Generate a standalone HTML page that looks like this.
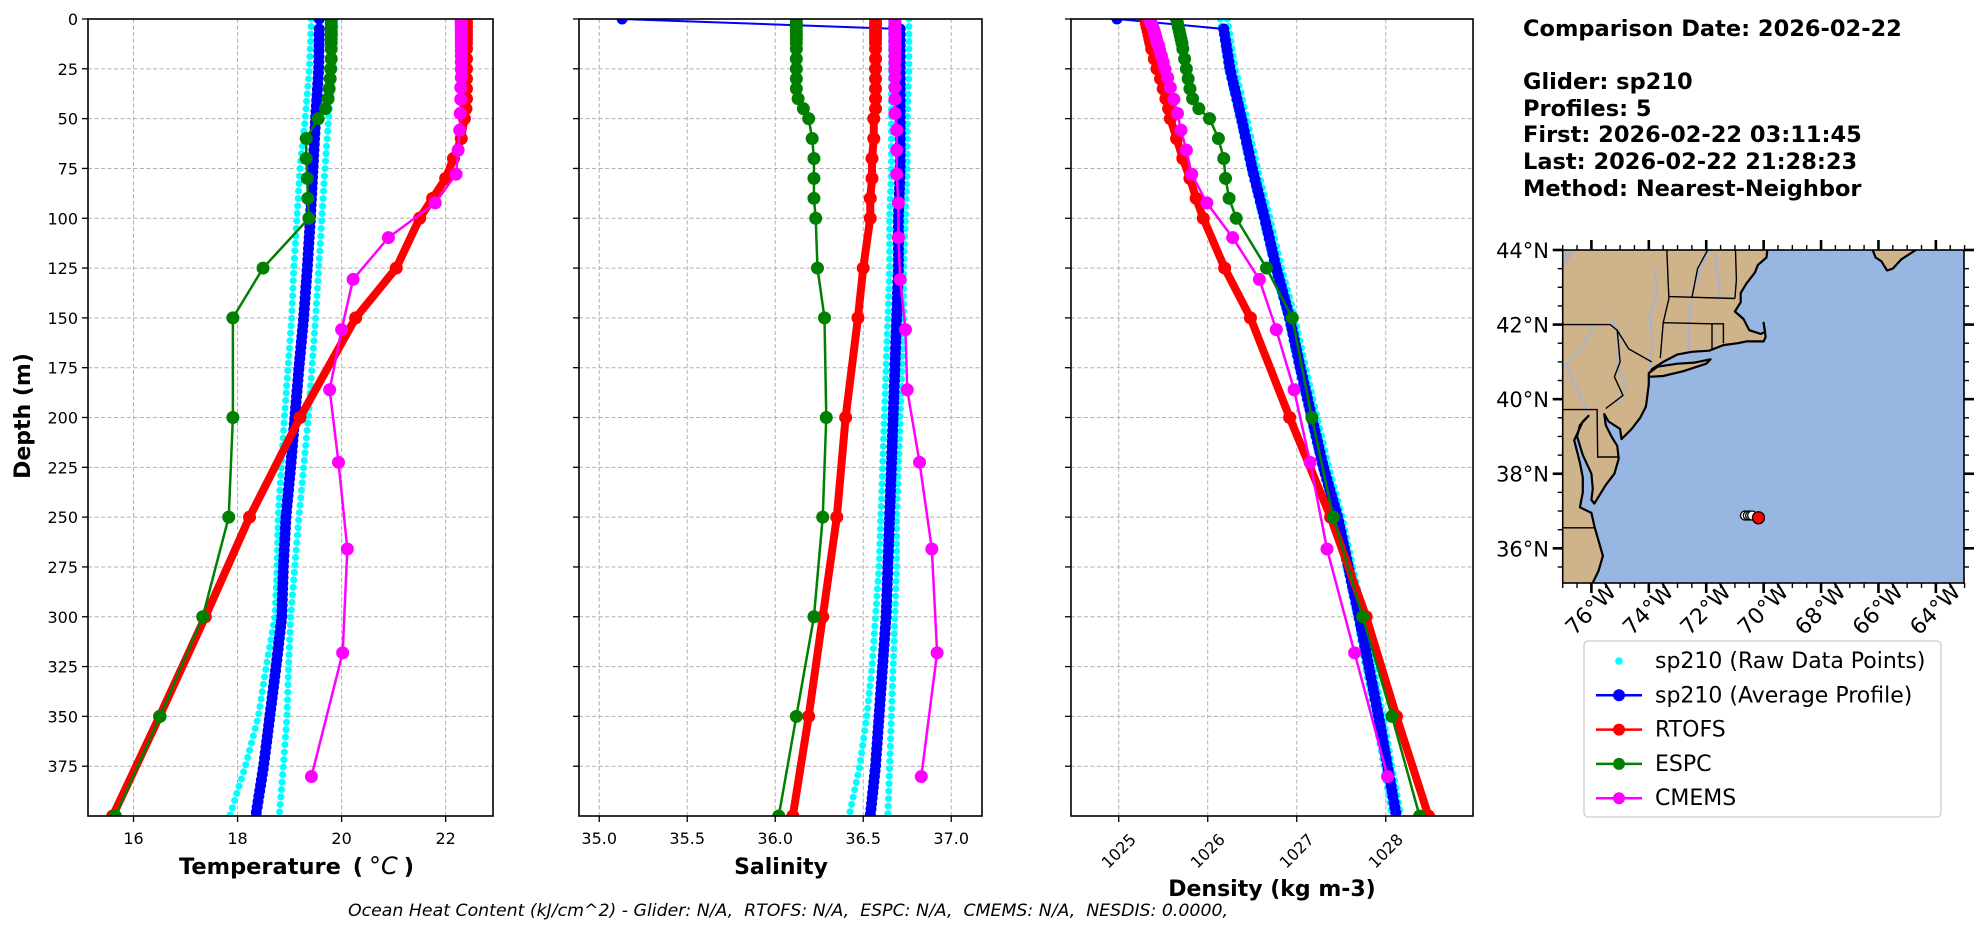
<!DOCTYPE html>
<html><head><meta charset="utf-8"><title>Glider vs Models Profile Comparison</title>
<style>
html,body{margin:0;padding:0;background:#fff;}
svg{display:block;font-family:"DejaVu Sans","Liberation Sans",sans-serif;}
</style></head>
<body>
<svg id="chart" xmlns="http://www.w3.org/2000/svg" width="1978" height="934" viewBox="0 0 1978 934">
<rect x="0" y="0" width="1978" height="934" fill="#fff"/>
<g font-weight="bold" font-size="22.5" fill="#000">
<text x="1523" y="36">Comparison Date: 2026-02-22</text>
<text x="1523" y="89">Glider: sp210</text>
<text x="1523" y="116">Profiles: 5</text>
<text x="1523" y="142">First: 2026-02-22 03:11:45</text>
<text x="1523" y="169">Last: 2026-02-22 21:28:23</text>
<text x="1523" y="196">Method: Nearest-Neighbor</text>
</g>
<text x="348" y="916" xml:space="preserve" textLength="880" lengthAdjust="spacingAndGlyphs" font-size="16.5" font-style="italic">Ocean Heat Content (kJ/cm^2) - Glider: N/A,  RTOFS: N/A,  ESPC: N/A,  CMEMS: N/A,  NESDIS: 0.0000,</text>
</svg>
<script>
// ---------- data ----------
const depthTicks = [0,25,50,75,100,125,150,175,200,225,250,275,300,325,350,375];
const tempTicks = [16,18,20,22];
const salTicks = [35.0,35.5,36.0,36.5,37.0];
const salTickLabels = ["35.0","35.5","36.0","36.5","37.0"];
const densTicks = [1025,1026,1027,1028];

const avgDepths = [0,5,25,50,75,100,125,150,175,200,225,250,275,300,325,350,375,400];
const rawDepths = [0,25,50,75,100,125,150,175,200,225,250,275,300,325,350,375,400];
const modelDepths = [0,2,4,6,8,10,12,15,20,25,30,35,40,45,50,60,70,80,90,100,125,150,200,250,300,350,400];
const cmemsDepths = [0.5,1.5,2.6,3.8,5.1,6.4,7.9,9.6,11.4,13.5,15.8,18.5,21.6,25.2,29.4,34.4,40.3,47.4,55.8,65.8,77.9,92.3,109.7,130.7,155.9,186.1,222.5,266.0,318.1,380.2];

const gliderTempAvg = [19.57,19.57,19.56,19.5,19.45,19.4,19.34,19.27,19.18,19.1,19.02,18.93,18.88,18.85,18.74,18.62,18.5,18.35];
const gliderTempRawLo = [19.42,19.38,19.3,19.2,19.14,19.08,19.04,18.97,18.9,18.84,18.78,18.76,18.72,18.55,18.4,18.15,17.85];
const gliderTempRawHi = [19.88,19.83,19.75,19.68,19.62,19.56,19.5,19.43,19.36,19.27,19.18,19.1,19.02,18.98,18.95,18.88,18.8];
const rtofsTemp = [22.4,22.4,22.4,22.4,22.4,22.4,22.4,22.4,22.4,22.4,22.4,22.4,22.4,22.39,22.36,22.3,22.15,22.0,21.75,21.5,21.05,20.27,19.2,18.23,17.38,16.5,15.6];
const espcTemp = [19.8,19.8,19.8,19.8,19.8,19.8,19.8,19.8,19.8,19.79,19.78,19.76,19.74,19.69,19.55,19.32,19.32,19.34,19.35,19.37,18.49,17.91,17.91,17.83,17.33,16.51,15.65];
const cmemsTemp = [22.3,22.3,22.3,22.3,22.3,22.3,22.3,22.3,22.3,22.3,22.3,22.3,22.3,22.3,22.3,22.29,22.29,22.28,22.27,22.24,22.2,21.8,20.9,20.22,20.0,19.77,19.94,20.11,20.02,19.42];

const gliderSalAvg = [35.13,36.71,36.71,36.71,36.71,36.7,36.7,36.69,36.68,36.67,36.66,36.65,36.64,36.63,36.61,36.59,36.57,36.54];
const gliderSalRawLo = [36.66,36.66,36.66,36.66,36.65,36.65,36.64,36.63,36.62,36.61,36.6,36.59,36.57,36.55,36.52,36.48,36.42];
const gliderSalRawHi = [36.76,36.76,36.75,36.75,36.74,36.73,36.73,36.72,36.71,36.7,36.69,36.69,36.68,36.67,36.66,36.65,36.64];
const rtofsSal = [36.57,36.57,36.57,36.57,36.57,36.57,36.57,36.57,36.57,36.57,36.57,36.57,36.57,36.57,36.56,36.56,36.55,36.55,36.54,36.54,36.5,36.47,36.4,36.35,36.27,36.19,36.1];
const espcSal = [36.12,36.12,36.12,36.12,36.12,36.12,36.12,36.12,36.12,36.12,36.12,36.12,36.13,36.16,36.19,36.21,36.22,36.22,36.22,36.23,36.24,36.28,36.29,36.27,36.22,36.12,36.02];
const cmemsSal = [36.68,36.68,36.68,36.68,36.68,36.68,36.68,36.68,36.68,36.68,36.68,36.68,36.68,36.68,36.68,36.68,36.68,36.68,36.69,36.69,36.69,36.7,36.7,36.71,36.74,36.75,36.82,36.89,36.92,36.83];

const gliderDensAvg = [1024.98,1026.18,1026.25,1026.38,1026.5,1026.64,1026.77,1026.92,1027.04,1027.17,1027.3,1027.46,1027.58,1027.7,1027.81,1027.92,1028.02,1028.12];
const gliderDensRawLo = [1026.14,1026.22,1026.35,1026.47,1026.61,1026.74,1026.89,1027.01,1027.14,1027.27,1027.43,1027.55,1027.67,1027.77,1027.88,1027.98,1028.07];
const gliderDensRawHi = [1026.22,1026.31,1026.44,1026.56,1026.7,1026.83,1026.98,1027.1,1027.23,1027.36,1027.51,1027.63,1027.75,1027.86,1027.97,1028.07,1028.17];
const rtofsDens = [1025.3,1025.31,1025.32,1025.33,1025.34,1025.35,1025.36,1025.37,1025.4,1025.43,1025.47,1025.5,1025.53,1025.56,1025.58,1025.65,1025.72,1025.8,1025.87,1025.95,1026.19,1026.48,1026.92,1027.38,1027.78,1028.12,1028.48];
const espcDens = [1025.65,1025.66,1025.67,1025.68,1025.69,1025.7,1025.71,1025.72,1025.74,1025.76,1025.78,1025.8,1025.83,1025.9,1026.02,1026.12,1026.18,1026.2,1026.24,1026.32,1026.66,1026.95,1027.17,1027.41,1027.74,1028.07,1028.38];
const cmemsDens = [1025.35,1025.36,1025.37,1025.38,1025.39,1025.4,1025.41,1025.42,1025.43,1025.45,1025.46,1025.48,1025.5,1025.52,1025.55,1025.58,1025.62,1025.66,1025.7,1025.76,1025.82,1025.99,1026.28,1026.58,1026.77,1026.97,1027.15,1027.34,1027.65,1028.02];

const latTicks = [36,38,40,42,44];
const lonTicks = [-76,-74,-72,-70,-68,-66,-64];
const gliderLons = [-70.65,-70.55,-70.47,-70.4];
const gliderLats = [36.88,36.88,36.88,36.88];
const latestLon = [-70.18];
const latestLat = [36.82];

// ---------- helpers ----------
const NS = "http://www.w3.org/2000/svg";
const svg = document.getElementById('chart');
function mk(tag, attrs, parent){
  const e = document.createElementNS(NS, tag);
  for (const k in attrs) e.setAttribute(k, attrs[k]);
  (parent || svg).appendChild(e);
  return e;
}
const Y0 = 19, Y1 = 816;
function yScale(d){ return Y0 + d * (Y1 - Y0) / 400; }
function linScale(vmin, vmax, x0, x1){ return v => x0 + (v - vmin) * (x1 - x0) / (vmax - vmin); }

const panels = [
  {key:'temperature', x0:88, x1:493, min:15.125, max:22.91, ticks:tempTicks, tlabels:tempTicks.map(String), rot:false,
   glider:[gliderTempAvg,gliderTempRawLo,gliderTempRawHi], rtofs:rtofsTemp, espc:espcTemp, cmems:cmemsTemp},
  {key:'salinity', x0:579, x1:982, min:34.885, max:37.175, ticks:salTicks, tlabels:salTickLabels, rot:false,
   glider:[gliderSalAvg,gliderSalRawLo,gliderSalRawHi], rtofs:rtofsSal, espc:espcSal, cmems:cmemsSal},
  {key:'density', x0:1071, x1:1473, min:1024.464, max:1028.98, ticks:densTicks, tlabels:densTicks.map(String), rot:true,
   glider:[gliderDensAvg,gliderDensRawLo,gliderDensRawHi], rtofs:rtofsDens, espc:espcDens, cmems:cmemsDens}
];

function pts(sx, depths, vals){ return vals.map((v,i)=> sx(v).toFixed(2)+','+yScale(depths[i]).toFixed(2)).join(' '); }

panels.forEach((p, pi) => {
  const sx = linScale(p.min, p.max, p.x0, p.x1);
  const g = mk('g', {});
  
  
  const cp = mk('clipPath', {id:'clip'+pi}, g);
  mk('rect', {x:p.x0, y:Y0, width:p.x1-p.x0, height:Y1-Y0}, cp);
  const grid = mk('g', {stroke:'#b0b0b0', 'stroke-width':1, 'stroke-dasharray':'4 2.5'}, g);
  
  
  p.ticks.forEach(t => {
    const gl = mk('line', {x1:sx(t), x2:sx(t), y1:Y0, y2:Y1}, grid);
    
    
  });
  depthTicks.forEach(d => {
    const gl = mk('line', {x1:p.x0, x2:p.x1, y1:yScale(d), y2:yScale(d)}, grid);
    
    
  });
  const series = mk('g', {'clip-path':'url(#clip'+pi+')'}, g);
  
  
  [p.glider[1], p.glider[2]].forEach((arr, k) => {
    const pl = mk('polyline', {points:pts(sx, rawDepths, arr), fill:'none', stroke:'#00ffff', 'stroke-width':7, 'stroke-linecap':'round', 'stroke-dasharray':'0 7.5'}, series);
    
    
  });
  const thin = mk('polyline', {points:pts(sx, avgDepths, p.glider[0]), fill:'none', stroke:'#0000ff', 'stroke-width':2}, series);
  
  
  const dotted = mk('polyline', {points:pts(sx, avgDepths.slice(1), p.glider[0].slice(1)), fill:'none', stroke:'#0000ff', 'stroke-width':11, 'stroke-linecap':'round', 'stroke-dasharray':'0 5.5'}, series);
  
  
  const first = mk('circle', {cx:sx(p.glider[0][0]), cy:yScale(avgDepths[0]), r:5.5, fill:'#0000ff'}, series);
  
  
  const models = [
    {name:'rtofs', vals:p.rtofs, depths:modelDepths, color:'#ff0000', w:8, r:6.5},
    {name:'espc', vals:p.espc, depths:modelDepths, color:'#008000', w:2.5, r:6.5},
    {name:'cmems', vals:p.cmems, depths:cmemsDepths, color:'#ff00ff', w:2.5, r:6.5}
  ];
  models.forEach(m => {
    const mg = mk('g', {}, series);
    
    
    const ln = mk('polyline', {points:pts(sx, m.depths, m.vals), fill:'none', stroke:m.color, 'stroke-width':m.w, 'stroke-linejoin':'round'}, mg);
    
    
    m.vals.forEach((v,i) => {
      const c = mk('circle', {cx:sx(v), cy:yScale(m.depths[i]), r:m.r, fill:m.color}, mg);
      
      
    });
  });
  const fr = mk('rect', {x:p.x0, y:Y0, width:p.x1-p.x0, height:Y1-Y0, fill:'none', stroke:'#000', 'stroke-width':1.6}, g);
  
  
  p.ticks.forEach((t, i) => {
    const tk = mk('line', {x1:sx(t), x2:sx(t), y1:Y1, y2:Y1+6, stroke:'#000', 'stroke-width':1.3}, g);
    
    
    let tl;
    if (p.rot) {
      tl = mk('text', {x:sx(t), y:851, 'text-anchor':'middle', 'dominant-baseline':'central', 'font-size':16, transform:'rotate(-45 '+sx(t)+' 851)'}, g);
    } else {
      tl = mk('text', {x:sx(t), y:844, 'text-anchor':'middle', 'font-size':16}, g);
    }
    tl.textContent = p.tlabels[i];
    
    
  });
  depthTicks.forEach(d => {
    const tk = mk('line', {x1:p.x0-6, x2:p.x0, y1:yScale(d), y2:yScale(d), stroke:'#000', 'stroke-width':1.3}, g);
    
    
    if (pi === 0) {
      const tl = mk('text', {x:p.x0-10, y:yScale(d)+6, 'text-anchor':'end', 'font-size':16}, g);
      tl.textContent = String(d);
      
      
    }
  });
});

const t1 = mk('text', {x:179, y:874, 'font-size':22.5, 'font-weight':'bold'});
t1.innerHTML = 'Temperature <tspan dx="4">(</tspan><tspan dx="6" font-style="italic" font-weight="normal" font-size="24">°C</tspan><tspan dx="6">)</tspan>';


const t2 = mk('text', {x:781, y:874, 'text-anchor':'middle', 'font-size':22, 'font-weight':'bold'});
t2.textContent = 'Salinity';


const t3 = mk('text', {x:1272, y:896, 'text-anchor':'middle', 'font-size':22, 'font-weight':'bold'});
t3.textContent = 'Density (kg m-3)';


const t4 = mk('text', {x:30, y:416, 'text-anchor':'middle', 'font-size':22, 'font-weight':'bold', transform:'rotate(-90 30 416)'});
t4.textContent = 'Depth (m)';



// ---------- map ----------
const MX0 = 1562.7, MX1 = 1964, MY0 = 250, MY1 = 583;
const LON0 = -77, LON1 = -63.02, LAT1 = 44, LAT0 = 35.07;
function mx(lon){ return MX0 + (lon - LON0) * (MX1 - MX0) / (LON1 - LON0); }
function my(lat){ return MY0 + (LAT1 - lat) * (MY1 - MY0) / (LAT1 - LAT0); }
function geo(arr){ return arr.map(p => mx(p[0]).toFixed(1)+','+my(p[1]).toFixed(1)).join(' '); }

const mapG = mk('g', {});


const mcp = mk('clipPath', {id:'mapclip'}, mapG);
mk('rect', {x:MX0, y:MY0, width:MX1-MX0, height:MY1-MY0}, mcp);
const inner = mk('g', {'clip-path':'url(#mapclip)'}, mapG);
const ocean = mk('rect', {x:MX0, y:MY0, width:MX1-MX0, height:MY1-MY0, fill:'#97b6e1'}, inner);


const mainland = [[-77.5,44.5],[-69.8,44.5],[-69.9,43.8],[-70.2,43.6],[-70.3,43.4],[-70.6,43.1],[-70.8,42.85],[-70.8,42.6],[-71.0,42.35],[-70.7,42.15],[-70.5,41.85],[-70.1,41.75],[-69.95,41.8],[-70.0,42.05],[-69.93,41.67],[-70.0,41.55],[-70.6,41.55],[-70.9,41.5],[-71.4,41.45],[-71.9,41.3],[-72.5,41.27],[-73.0,41.2],[-73.5,41.0],[-73.9,40.8],[-74.0,40.6],[-74.0,40.4],[-74.05,40.1],[-74.1,39.8],[-74.3,39.5],[-74.6,39.2],[-74.95,38.93],[-75.0,39.2],[-75.4,39.4],[-75.55,39.6],[-75.5,39.3],[-75.3,39.0],[-75.1,38.75],[-75.05,38.4],[-75.2,38.0],[-75.5,37.7],[-75.9,37.2],[-76.0,37.3],[-75.95,37.6],[-76.0,38.0],[-76.3,38.5],[-76.5,39.0],[-76.4,39.3],[-76.1,39.55],[-76.3,39.4],[-76.6,38.9],[-76.4,38.3],[-76.3,37.9],[-76.3,37.5],[-76.4,37.1],[-76.0,36.95],[-75.9,36.6],[-75.75,36.2],[-75.6,35.8],[-75.75,35.4],[-76.0,35.0],[-77.5,35.0]];
const longIsland = [[-74.0,40.6],[-73.5,40.62],[-72.8,40.75],[-72.0,40.95],[-71.85,41.07],[-72.4,40.98],[-73.0,40.95],[-73.7,40.87],[-74.0,40.7]];
const novaScotia = [[-66.2,44.5],[-66.2,44],[-66.1,43.8],[-65.9,43.7],[-65.7,43.45],[-65.5,43.5],[-65.2,43.75],[-64.7,44],[-64.5,44.5]];
const canada = [[-77.5,44.5],[-76.5,44.5],[-76.6,44],[-76.9,43.6],[-77.5,43.6]];
[['mainland-land',mainland],['long-island',longIsland],['nova-scotia',novaScotia]].forEach(l => {
  const pg = mk('polygon', {points:geo(l[1]), fill:'#cfb38a', stroke:'#000', 'stroke-width':2.2, 'stroke-linejoin':'round'}, inner);
  
  
});
const cg = mk('polygon', {points:geo(canada), fill:'#b0b0b0'}, inner);


const rivers = [
  [[-73.95,40.8],[-73.9,41.5],[-73.95,42.3],[-73.7,42.8],[-73.8,43.5]],
  [[-76.1,39.6],[-76.5,40.3],[-76.9,40.9],[-76.3,41.4],[-75.9,42.0]],
  [[-72.6,41.3],[-72.6,42.0],[-72.5,42.8],[-72.2,43.5],[-71.9,44.0]],
  [[-75.1,39.9],[-74.8,40.4],[-75.1,40.9],[-75.0,41.6],[-75.3,42.2]],
  [[-71.5,42.7],[-71.6,43.3],[-71.7,43.9]]
];
rivers.forEach(r => {
  const rl = mk('polyline', {points:geo(r), fill:'none', stroke:'#97b6e1', 'stroke-width':1.5}, inner);
  
  
});
const borders = [
  [[-77.5,42.0],[-75.35,42.0],[-75.1,41.85],[-74.7,41.35],[-73.9,41.0]],
  [[-75.1,41.85],[-75.0,41.0],[-75.2,40.6],[-74.9,40.1],[-75.5,39.75]],
  [[-77.5,39.72],[-75.8,39.72],[-75.78,38.45],[-75.05,38.45]],
  [[-77.5,36.55],[-75.9,36.55]],
  [[-73.6,41.1],[-73.5,42.05],[-73.3,42.7],[-73.4,44.5]],
  [[-73.5,42.05],[-71.8,42.02],[-71.4,42.02],[-71.4,41.5]],
  [[-71.8,42.02],[-71.8,41.35]],
  [[-73.3,42.75],[-71.0,42.7]],
  [[-72.5,42.72],[-72.3,43.5],[-71.6,44.5]],
  [[-71.0,42.7],[-70.95,43.2],[-71.0,44.5]]
];
borders.forEach(b => {
  const bl = mk('polyline', {points:geo(b), fill:'none', stroke:'#000', 'stroke-width':1.4}, inner);
  
  
});
gliderLons.forEach((lon,i) => {
  const c = mk('circle', {cx:mx(lon), cy:my(gliderLats[i]), r:4.5, fill:'#fff', stroke:'#000', 'stroke-width':1.3}, inner);
  
  
});
latestLon.forEach((lon,i) => {
  const c = mk('circle', {cx:mx(lon), cy:my(latestLat[i]), r:6, fill:'#ff0000', stroke:'#000', 'stroke-width':1.3}, inner);
  
  
});
const mf = mk('rect', {x:MX0, y:MY0, width:MX1-MX0, height:MY1-MY0, fill:'none', stroke:'#000', 'stroke-width':1.6}, mapG);


for (let lat = 35.5; lat <= 44; lat += 0.5) {
  const major = latTicks.indexOf(lat) >= 0;
  const L = major ? 10 : 5, W = major ? 2.6 : 1.4;
  const a = mk('line', {x1:MX0-L, x2:MX0, y1:my(lat), y2:my(lat), stroke:'#000', 'stroke-width':W}, mapG);
  
  
  const b = mk('line', {x1:MX1, x2:MX1+L, y1:my(lat), y2:my(lat), stroke:'#000', 'stroke-width':W}, mapG);
  
  
}
for (let lon = -77; lon <= -63; lon += 0.5) {
  const major = lonTicks.indexOf(lon) >= 0;
  const L = major ? 10 : 5, W = major ? 2.6 : 1.4;
  const a = mk('line', {x1:mx(lon), x2:mx(lon), y1:MY1, y2:MY1+L, stroke:'#000', 'stroke-width':W}, mapG);
  
  
  const b = mk('line', {x1:mx(lon), x2:mx(lon), y1:MY0-L, y2:MY0, stroke:'#000', 'stroke-width':W}, mapG);
  
  
}
latTicks.forEach(lat => {
  const t = mk('text', {x:1549, y:my(lat)+8, 'text-anchor':'end', 'font-size':21}, mapG);
  t.textContent = lat + '°N';
  
  
});
lonTicks.forEach(lon => {
  const x = mx(lon);
  const t = mk('text', {x:x, y:610, 'text-anchor':'middle', 'dominant-baseline':'central', 'font-size':22, transform:'rotate(-45 '+x+' 610)'}, mapG);
  t.textContent = (-lon) + '°W';
  
  
});

// ---------- legend ----------
const leg = mk('g', {});


const lb = mk('rect', {x:1584, y:641, width:357, height:176, rx:4, fill:'#fff', 'fill-opacity':0.85, stroke:'#cccccc', 'stroke-width':1.3}, leg);


const legendLabels = ['sp210 (Raw Data Points)','sp210 (Average Profile)','RTOFS','ESPC','CMEMS'];
const legendColors = ['#00ffff','#0000ff','#ff0000','#008000','#ff00ff'];
legendLabels.forEach((lab, i) => {
  const y = 661 + i * 34.3;
  const eg = mk('g', {}, leg);
  
  
  if (i > 0) {
    const l = mk('line', {x1:1596, x2:1642, y1:y, y2:y, stroke:legendColors[i], 'stroke-width':2.5}, eg);
    
    
  }
  const c = mk('circle', {cx:1619, cy:y, r:i===0?3.8:6, fill:legendColors[i]}, eg);
  
  
  const t = mk('text', {x:1655, y:y+7, 'font-size':22}, eg);
  t.textContent = lab;
  
  
});
</script>
</body></html>
